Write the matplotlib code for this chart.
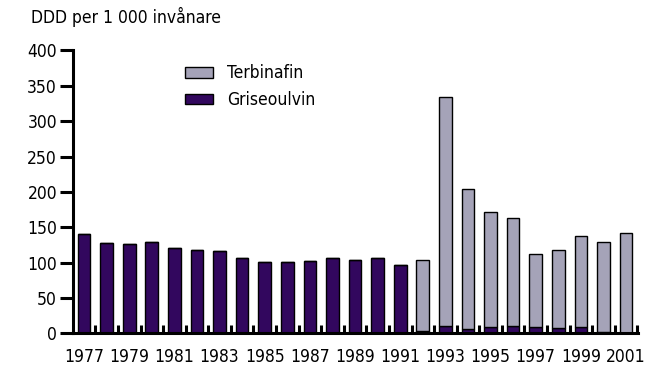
import matplotlib
matplotlib.use("Agg")
import matplotlib.pyplot as plt
import numpy as np
from matplotlib.ticker import FixedLocator

years = list(range(1977, 2002))
griseofulvin = [140, 128, 127, 129, 121, 118, 117, 107, 101, 101, 103, 107, 104, 107, 97,
                4, 11, 7, 9, 11, 9, 8, 9, 2, 0]
total = [140, 128, 127, 129, 121, 118, 117, 107, 101, 101, 103, 107, 104, 107, 97,
         104, 334, 204, 172, 163, 112, 118, 138, 129, 142]
terbinafin = [t - g for t, g in zip(total, griseofulvin)]
yticks = [0, 50, 100, 150, 200, 250, 300, 350, 400]
xlabels = [str(y) for y in years if y % 2 == 1]

plt.rcParams['font.family'] = ['DejaVu Sans']
plt.rcParams['font.stretch'] = 'condensed'

c_ter = '#A5A3B8'
c_gri = '#32075E'

fig = plt.figure(figsize=(6.6, 3.67), dpi=100)
ax = fig.add_axes([0.1106, 0.0913, 0.8561, 0.7711])

x = np.arange(len(years))
w = 0.56
ax.bar(x, griseofulvin, w, color=c_gri, edgecolor='black', linewidth=1.0, label='Griseoulvin', zorder=2)
ax.bar(x, terbinafin, w, bottom=griseofulvin, color=c_ter, edgecolor='black', linewidth=1.0,
       label='Terbinafin', zorder=2)

ax.set_xlim(-0.49, 24.53)
ax.set_ylim(0, 400)
ax.set_yticks(yticks)
ax.tick_params(axis='y', direction='out', length=9.5, width=2.2, labelsize=12.5, pad=2)
xt = [i for i, y in enumerate(years) if y % 2 == 1]
ax.set_xticks(xt)
ax.set_xticklabels(xlabels)
ax.tick_params(axis='x', which='major', length=0, labelsize=12.5, pad=10.5)
ax.xaxis.set_minor_locator(FixedLocator(x + 0.5))
ax.tick_params(axis='x', which='minor', direction='in', length=5.5, width=2.2, color='black')

for s in ['top', 'right']:
    ax.spines[s].set_visible(False)
for s in ['left', 'bottom']:
    ax.spines[s].set_linewidth(2.2)

handles, labels = ax.get_legend_handles_labels()
ax.legend(handles[::-1], labels[::-1], loc='upper left', bbox_to_anchor=(0.171, 1.006),
          frameon=False, fontsize=12.5, handlelength=1.6, handleheight=0.57,
          handletextpad=0.8, labelspacing=0.5)

fig.text(0.047, 0.953, 'DDD per 1 000 invånare', fontsize=12.5, ha='left', va='center')

fig.savefig('out.png', dpi=100)
